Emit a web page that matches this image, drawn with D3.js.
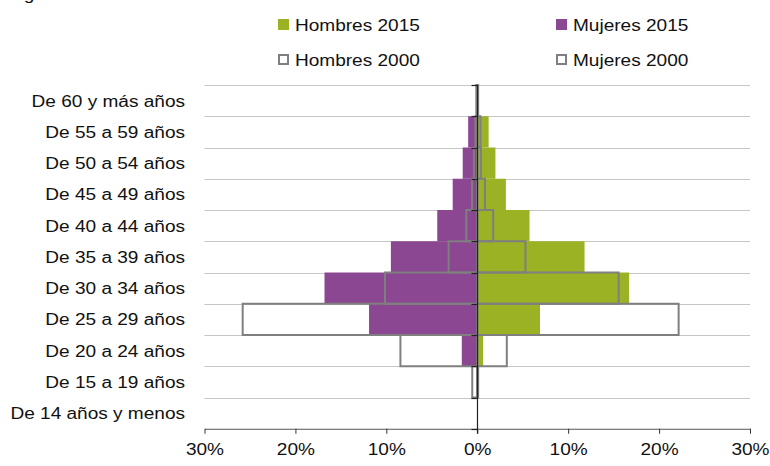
<!DOCTYPE html>
<html>
<head>
<meta charset="utf-8">
<script src="https://cdn.jsdelivr.net/npm/d3@7/dist/d3.min.js"></script>
<style>
  html, body { margin: 0; padding: 0; background: #fff; }
  svg { display: block; }
  text { font-family: "Liberation Sans", Arial, sans-serif; font-size: 16px; fill: #111; }
</style>
</head>
<body>
<svg id="chart" width="770" height="466"></svg>
<script>
// ---- Data ----
const categories = [
  "De 60 y más años",
  "De 55 a 59 años",
  "De 50 a 54 años",
  "De 45 a 49 años",
  "De 40 a 44 años",
  "De 35 a 39 años",
  "De 30 a 34 años",
  "De 25 a 29 años",
  "De 20 a 24 años",
  "De 15 a 19 años",
  "De 14 años y menos"
];
const hombres2015 = [0.15, 1.25, 2.0, 3.15, 5.75, 11.8, 16.7, 6.9, 0.65, 0, 0];
const mujeres2015 = [0.1, 1.0, 1.6, 2.7, 4.4, 9.5, 16.8, 11.9, 1.7, 0, 0];
const hombres2000 = [0.1, 0.35, 0.4, 0.85, 1.75, 5.3, 15.55, 22.15, 3.25, 0.1, 0];
const mujeres2000 = [0.1, 0.2, 0.37, 0.58, 1.2, 3.15, 10.15, 25.8, 8.45, 0.55, 0];
const xTicks = [-30, -20, -10, 0, 10, 20, 30];
const legendItems = [
  { label: "Hombres 2015", type: "fill", color: "#9bb224" },
  { label: "Mujeres 2015", type: "fill", color: "#8b4791" },
  { label: "Hombres 2000", type: "outline", color: "#7f7f7f" },
  { label: "Mujeres 2000", type: "outline", color: "#7f7f7f" }
];
const titleText = "Figura";

// ---- Layout ----
const SX = 1.19; // horizontal text stretch seen in the reference
const svg = d3.select("#chart");
const x = d3.scaleLinear().domain([-30, 30]).range([204.5, 750]);
const y = d3.scaleBand().domain(categories).range([85, 428.75]).padding(0);
const green = "#9bb224", purple = "#8b4791", outline = "#7f7f7f";

// clipped title (only descender visible)
svg.append("text").attr("transform", `translate(8,0) scale(${SX},1)`).text(titleText);

// gridlines at band boundaries
svg.append("g").selectAll("line").data(categories).join("line")
  .attr("x1", x(-30)).attr("x2", x(30))
  .attr("y1", d => Math.round(y(d)) + 0.5).attr("y2", d => Math.round(y(d)) + 0.5)
  .attr("stroke", "#c6c6c6").attr("stroke-width", 1);

// 2015 filled bars
const g15 = svg.append("g");
g15.selectAll("rect.h").data(categories).join("rect").attr("class", "h")
  .attr("x", x(0)).attr("y", d => y(d))
  .attr("width", (d, i) => x(hombres2015[i]) - x(0))
  .attr("height", y.bandwidth()).attr("fill", green);
g15.selectAll("rect.m").data(categories).join("rect").attr("class", "m")
  .attr("x", (d, i) => x(-mujeres2015[i])).attr("y", d => y(d))
  .attr("width", (d, i) => x(0) - x(-mujeres2015[i]))
  .attr("height", y.bandwidth()).attr("fill", purple);

// 2000 outline bars
const g00 = svg.append("g").attr("fill", "none").attr("stroke", outline).attr("stroke-width", 2);
g00.selectAll("rect.h").data(categories.filter((d, i) => hombres2000[i] > 0)).join("rect").attr("class", "h")
  .attr("x", x(0)).attr("y", d => y(d))
  .attr("width", d => x(hombres2000[categories.indexOf(d)]) - x(0))
  .attr("height", y.bandwidth());
g00.selectAll("rect.m").data(categories.filter((d, i) => mujeres2000[i] > 0)).join("rect").attr("class", "m")
  .attr("x", d => x(-mujeres2000[categories.indexOf(d)])).attr("y", d => y(d))
  .attr("width", d => x(0) - x(-mujeres2000[categories.indexOf(d)]))
  .attr("height", y.bandwidth());

// x axis
const xAxis = svg.append("g").attr("transform", `translate(0,${y.range()[1]})`)
  .call(d3.axisBottom(x).tickValues(xTicks).tickFormat(d => Math.abs(d) + "%")
    .tickSize(5).tickPadding(10).tickSizeOuter(0));
xAxis.select(".domain").attr("stroke", "#555");
xAxis.selectAll(".tick line").attr("stroke", "#333");
xAxis.selectAll(".tick text").attr("font-size", null).attr("font-family", null)
  .attr("transform", `scale(${SX},1)`).attr("x", 0).attr("fill", "#111");

// central y axis line with boundary ticks
const zx = Math.round(x(0)) + 0.5;
svg.append("line").attr("x1", zx).attr("x2", zx)
  .attr("y1", y.range()[0]).attr("y2", y.range()[1] + 5).attr("stroke", "#222").attr("stroke-width", 1.2);
const bounds = categories.map(d => y(d)).concat([y.range()[1]]);
svg.append("g").selectAll("line").data(bounds).join("line")
  .attr("x1", zx - 6).attr("x2", zx)
  .attr("y1", d => Math.round(d) + 0.5).attr("y2", d => Math.round(d) + 0.5)
  .attr("stroke", "#222").attr("stroke-width", 1.2);

// category labels
svg.append("g").selectAll("text").data(categories).join("text")
  .attr("transform", d => `translate(185,${y(d) + y.bandwidth() / 2}) scale(${SX},1)`)
  .attr("text-anchor", "end").attr("dy", "0.37em").text(d => d);

// legend
const legPos = [[278, 19], [556, 19], [278, 54], [556, 54]];
const leg = svg.append("g").selectAll("g").data(legendItems).join("g")
  .attr("transform", (d, i) => `translate(${legPos[i][0]},${legPos[i][1]})`);
leg.filter(d => d.type === "fill").append("rect")
  .attr("width", 11).attr("height", 11).attr("fill", d => d.color);
leg.filter(d => d.type === "outline").append("rect")
  .attr("x", 1).attr("y", 1).attr("width", 9).attr("height", 9)
  .attr("fill", "#fff").attr("stroke", d => d.color).attr("stroke-width", 2);
leg.append("text").attr("transform", `translate(17,11.5) scale(${SX},1)`).text(d => d.label);
</script>
</body>
</html>
